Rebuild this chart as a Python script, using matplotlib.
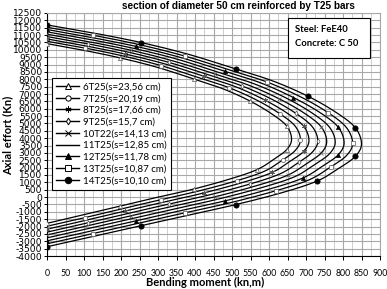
import numpy as np
import matplotlib
matplotlib.use('Agg')
import matplotlib.pyplot as plt
from matplotlib.lines import Line2D
from matplotlib.patches import Rectangle
from matplotlib.ticker import MultipleLocator

plt.rcParams['axes.unicode_minus'] = False

# Interaction curves: (bending moment kN.m, axial effort kN), from top to bottom
labels = ['6T25(s=23,56 cm)', '7T25(s=20,19 cm)', '8T25(s=17,66 cm)',
          '9T25(s=15,7 cm)', '10T22(s=14,13 cm)', '11T25(s=12,85 cm)',
          '12T25(s=11,78 cm)', '13T25(s=10,87 cm)', '14T25(s=10,10 cm)']

m_6t25 = [0, 99, 198, 297, 397, 476, 549, 608, 648, 661, 648, 615, 568, 496, 397, 297, 198, 99, 0]
n_6t25 = [10420, 9970, 9450, 8820, 8020, 7350, 6520, 5640, 4820, 3930, 3230, 2600, 1870, 1240, 550, -20, -610, -1200, -1780]

m_7t25 = [0, 103, 206, 308, 411, 493, 569, 630, 671, 685, 671, 637, 589, 514, 411, 308, 206, 103, 0]
n_7t25 = [10580, 10120, 9580, 8930, 8100, 7420, 6560, 5650, 4810, 3890, 3170, 2520, 1770, 1120, 420, -170, -780, -1390, -1980]

m_8t25 = [0, 106, 212, 319, 425, 510, 588, 651, 694, 708, 694, 658, 609, 531, 425, 319, 212, 106, 0]
n_8t25 = [10740, 10260, 9710, 9040, 8190, 7490, 6600, 5670, 4800, 3850, 3110, 2450, 1680, 1010, 290, -320, -940, -1570, -2180]

m_9t25 = [0, 110, 220, 329, 439, 527, 608, 673, 717, 732, 717, 681, 630, 549, 439, 329, 220, 110, 0]
n_9t25 = [10900, 10410, 9840, 9150, 8280, 7550, 6640, 5680, 4780, 3810, 3050, 2370, 1580, 890, 150, -470, -1110, -1750, -2380]

m_10t22 = [0, 113, 227, 340, 454, 544, 627, 696, 741, 756, 741, 703, 650, 567, 454, 340, 227, 113, 0]
n_10t22 = [11060, 10550, 9970, 9250, 8360, 7610, 6680, 5690, 4770, 3770, 2990, 2300, 1480, 780, 20, -620, -1270, -1930, -2570]

m_11t25 = [0, 117, 234, 351, 467, 561, 647, 717, 763, 779, 763, 724, 670, 584, 467, 351, 234, 117, 0]
n_11t25 = [11220, 10700, 10100, 9370, 8440, 7680, 6720, 5700, 4760, 3730, 2930, 2220, 1390, 670, -110, -770, -1440, -2110, -2770]

m_12t25 = [0, 120, 241, 361, 482, 578, 666, 739, 787, 803, 787, 747, 691, 602, 482, 361, 241, 120, 0]
n_12t25 = [11380, 10840, 10230, 9480, 8530, 7750, 6760, 5720, 4750, 3690, 2870, 2140, 1290, 550, -250, -920, -1610, -2300, -2970]

m_13t25 = [0, 124, 248, 372, 496, 595, 686, 760, 809, 826, 809, 768, 710, 620, 496, 372, 248, 124, 0]
n_13t25 = [11530, 10990, 10360, 9580, 8610, 7810, 6800, 5730, 4730, 3650, 2810, 2070, 1190, 440, -380, -1070, -1770, -2480, -3170]

m_14t25 = [0, 128, 255, 383, 510, 612, 706, 782, 833, 850, 833, 791, 731, 638, 510, 383, 255, 128, 0]
n_14t25 = [11690, 11130, 10490, 9690, 8700, 7870, 6840, 5740, 4720, 3610, 2760, 1990, 1100, 320, -510, -1220, -1940, -2660, -3370]

moments = [m_6t25, m_7t25, m_8t25, m_9t25, m_10t22, m_11t25, m_12t25, m_13t25, m_14t25]
efforts = [n_6t25, n_7t25, n_8t25, n_9t25, n_10t22, n_11t25, n_12t25, n_13t25, n_14t25]

# marker styles (marker, filled, size)
styles = [('^', False, 3), ('o', False, 3), ((6, 2, 0), False, 3.5),
          ('d', False, 2.6), ('x', False, 3), (None, False, 0),
          ('^', True, 3), ('s', False, 3), ('o', True, 3.8)]


def smooth(x, y, n=24):
    # Catmull-Rom spline through the points (like a smoothed Excel line)
    p = np.column_stack([x, y]).astype(float)
    p = np.vstack([2 * p[0] - p[1], p, 2 * p[-1] - p[-2]])
    out = []
    for i in range(1, len(p) - 2):
        p0, p1, p2, p3 = p[i - 1], p[i], p[i + 1], p[i + 2]
        t = np.linspace(0, 1, n, endpoint=False)[:, None]
        seg = 0.5 * ((2 * p1) + (-p0 + p2) * t + (2 * p0 - 5 * p1 + 4 * p2 - p3) * t ** 2
                     + (-p0 + 3 * p1 - 3 * p2 + p3) * t ** 3)
        out.append(seg)
    out.append(p[-2][None, :])
    out = np.vstack(out)
    return out[:, 0], out[:, 1]


fig = plt.figure(figsize=(3.87, 2.89), dpi=100)
ax = fig.add_axes([47 / 387, 1 - 256 / 289, 333 / 387, 243 / 289])

handles = []
for k, (m, n) in enumerate(zip(moments, efforts)):
    xs, ys = smooth(m, n)
    ax.plot(xs, ys, color='black', lw=0.9, zorder=3)
    mk, filled, ms = styles[k]
    if mk is not None:
        ax.plot(m[k % 2::2], n[k % 2::2], ls='none', marker=mk, ms=ms,
                mfc='black' if filled else 'white',
                mec='black' if filled else '#555555',
                mew=0.5, zorder=4)
    handles.append(Line2D([], [], color='black', lw=1.0, marker=mk, ms=ms + 0.8,
                          mfc='black' if filled else 'white', mec='black', mew=0.7))

ax.set_xlim(0, 900)
ax.set_ylim(-4000, 12500)
ax.xaxis.set_major_locator(MultipleLocator(50))
ax.xaxis.set_minor_locator(MultipleLocator(25))
ax.yaxis.set_major_locator(MultipleLocator(500))
ax.grid(which='major', color='#a8a8a8', lw=0.8, zorder=0)
ax.grid(which='minor', axis='x', color='#c8c8c8', lw=0.6, zorder=0)
ax.set_axisbelow(True)
ax.tick_params(axis='x', which='major', direction='out', length=3, width=0.7, pad=6)
ax.tick_params(axis='x', which='minor', length=0)
ax.tick_params(axis='y', direction='out', length=2, width=0.7, pad=1.5)
for lab in ax.get_xticklabels():
    lab.set_fontfamily('Lato')
    lab.set_fontsize(6.3)
for lab in ax.get_yticklabels():
    lab.set_fontfamily('DejaVu Sans')
    lab.set_fontsize(6.6)
for s in ['top', 'right']:
    ax.spines[s].set_color('#a8a8a8')
for s in ['left', 'bottom']:
    ax.spines[s].set_linewidth(0.8)

leg = ax.legend(handles, labels, loc='upper left', bbox_to_anchor=(52 / 387, 1 - 78 / 289),
                bbox_transform=fig.transFigure, borderaxespad=0, frameon=True,
                fancybox=False, framealpha=1, edgecolor='black',
                prop={'family': 'Lato', 'size': 7}, handlelength=2.3,
                handletextpad=0.4, labelspacing=0.28, borderpad=0.45)
leg.get_frame().set_linewidth(0.8)
leg.set_zorder(5)

# material box
fig.patches.append(Rectangle((288 / 387, 1 - 58 / 289), 82 / 387, 40 / 289,
                             transform=fig.transFigure, facecolor='white',
                             edgecolor='black', lw=0.8, zorder=5))
fig.text(295 / 387, 1 - 30 / 289, 'Steel: FeE40', fontsize=6.8, fontweight='bold',
         family='Lato', va='center', zorder=6)
fig.text(295 / 387, 1 - 44 / 289, 'Concrete: C 50', fontsize=6.8, fontweight='bold',
         family='Lato', va='center', zorder=6)

fig.text(238 / 387, 1 - 6 / 289, 'section of diameter 50 cm reinforced by T25 bars',
         ha='center', va='center', fontsize=7.2, fontweight='bold', family='Liberation Sans')
fig.text(205 / 387, 1 - 282 / 289, 'Bending moment (kn,m)', ha='center', va='center',
         fontsize=8, fontweight='bold', family='Lato')
fig.text(8 / 387, 1 - 135 / 289, 'Axial effort (Kn)', ha='center', va='center',
         rotation=90, fontsize=8, fontweight='bold', family='Lato')

fig.savefig('out.png', dpi=100)
